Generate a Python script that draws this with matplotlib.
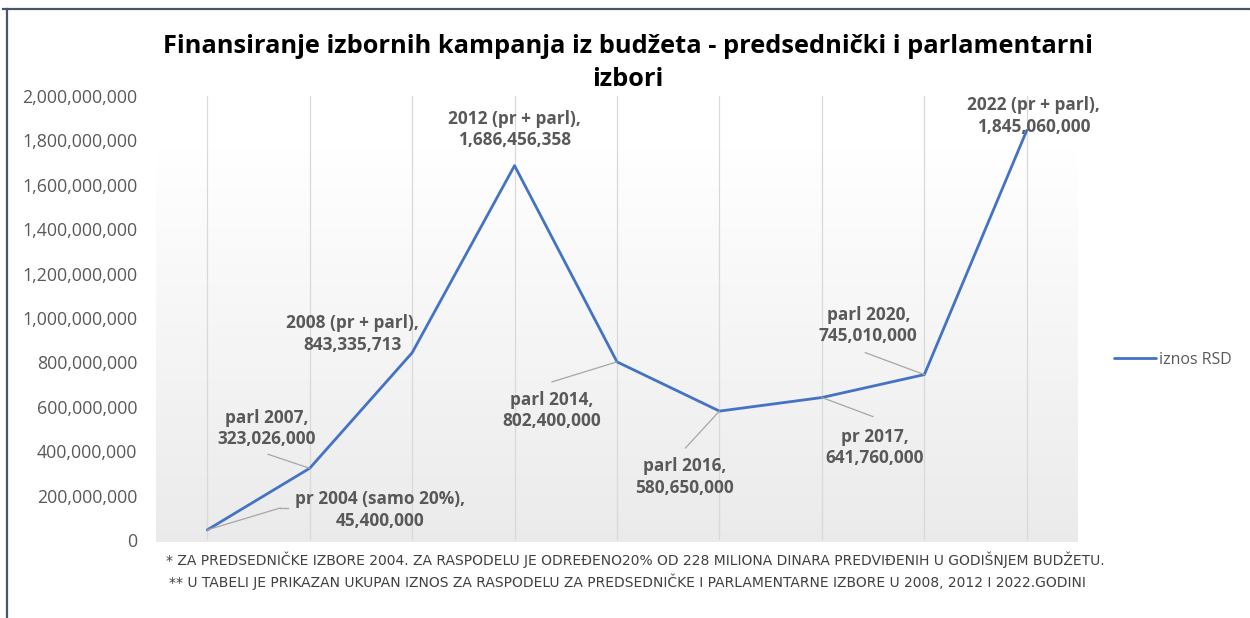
import numpy as np
import matplotlib
matplotlib.use("Agg")
import matplotlib.pyplot as plt
from matplotlib.lines import Line2D
from matplotlib.ticker import FuncFormatter
from matplotlib.transforms import offset_copy

# ---- data ----
categories = ["pr 2004 (samo 20%)", "parl 2007", "2008 (pr + parl)", "2012 (pr + parl)",
              "parl 2014", "parl 2016", "pr 2017", "parl 2020", "2022 (pr + parl)"]
values = [45400000, 323026000, 843335713, 1686456358, 802400000,
          580650000, 641760000, 745010000, 1845060000]
series_name = "iznos RSD"
title = "Finansiranje izbornih kampanja iz budžeta - predsednički i parlamentarni\nizbori"
footnote1 = "* ZA PREDSEDNIČKE IZBORE 2004. ZA RASPODELU JE ODREĐENO20% OD 228 MILIONA DINARA PREDVIĐENIH U GODIŠNJEM BUDŽETU."
footnote2 = "** U TABELI JE PRIKAZAN UKUPAN IZNOS ZA RASPODELU ZA PREDSEDNIČKE I PARLAMENTARNE IZBORE U 2008, 2012 I 2022.GODINI"
yticks = [0, 200000000, 400000000, 600000000, 800000000, 1000000000,
          1200000000, 1400000000, 1600000000, 1800000000, 2000000000]

# label placement (offset of label centre from point, in points) and leader path (points)
label_offsets = [(124.6, 14.4), (-31, 28.8), (-43.2, 13.7), (0, 26), (-46.8, -35),
                 (-25.2, -47.5), (38, -36), (-40.3, 35.3), (5, 10.4)]
leaders = [[(52.6, 15.8), (58.3, 15.8)], [(-30, 10.1)], None, None, [(-46.8, -14.4)],
           [(-24.5, -26.6)], [(36.7, -13.7)], [(-42.5, 15.8)], None]

W, H = 1250, 618
fig = plt.figure(figsize=(W / 100, H / 100), dpi=100)
fig.patch.set_facecolor("white")

FONT = "Open Sans"
TXT = "#595959"
LEAD = "#a6a6a6"

ax_l, ax_r = 156 / W, 1078 / W
ax_b, ax_t = 1 - 540 / H, 1 - 96 / H
rect = [ax_l, ax_b, ax_r - ax_l, ax_t - ax_b]

# gradient background of plot area
bg = fig.add_axes([ax_l, 1 - 542 / H, ax_r - ax_l, ax_t - (1 - 542 / H)], zorder=0)
g = np.linspace(0, 1, 256)
g = np.clip((g - 0.12) / 0.88, 0, 1)
top_c = np.array([1.0, 1.0, 1.0])
bot_c = np.array([0.92, 0.92, 0.92])
img = top_c[None, :] * (1 - g[:, None]) + bot_c[None, :] * g[:, None]
bg.imshow(img[:, None, :], aspect="auto", extent=[0, 1, 0, 1], origin="upper")
bg.set_axis_off()

ax = fig.add_axes(rect, zorder=1)
ax.set_facecolor("none")
x = np.arange(len(values))
ax.set_xlim(-0.5, len(values) - 0.5)
ax.set_ylim(0, 2000000000)
for xi in x:
    ax.axvline(xi, color="#d9d9d9", lw=0.9, zorder=1)

line, = ax.plot(x, values, color="#4472C4", lw=2.0, zorder=3, solid_capstyle="round",
                label=series_name)

for i, (cat, v) in enumerate(zip(categories, values)):
    dx, dy = label_offsets[i]
    ax.annotate(f"{cat},\n{v:,}", xy=(i, v), xytext=(dx, dy), textcoords="offset points",
                ha="center", va="center", fontsize=12.4, fontweight="bold", color=TXT,
                family=FONT, linespacing=1.25, zorder=4)
    if leaders[i]:
        pts = [(0.0, 0.0)] + leaders[i]
        for (x0, y0), (x1, y1) in zip(pts[:-1], pts[1:]):
            p0 = offset_copy(ax.transData, fig=fig, x=x0, y=y0, units="points").transform((i, v))
            p1 = offset_copy(ax.transData, fig=fig, x=x1, y=y1, units="points").transform((i, v))
            fig.add_artist(Line2D([p0[0] / W, p1[0] / W], [p0[1] / H, p1[1] / H],
                                  transform=fig.transFigure, color=LEAD, lw=0.9,
                                  zorder=2))

ax.set_xticks([])
ax.set_yticks(yticks)
ax.yaxis.set_major_formatter(FuncFormatter(lambda v, p: f"{int(v):,}"))
ax.tick_params(axis="y", length=0, pad=13.5, labelsize=12.8, labelcolor=TXT)
for lab in ax.get_yticklabels():
    lab.set_family(FONT)
for s in ax.spines.values():
    s.set_visible(False)

# title
fig.text(628 / W, 1 - 63 / H, title, ha="center", va="center", fontsize=18.3,
         fontweight="bold", color="black", family=FONT, linespacing=1.45)

# legend
fig.legend(handles=[line], labels=[series_name], loc="center left",
           bbox_to_anchor=(1108 / W, 1 - 360 / H), frameon=False,
           prop={"family": FONT, "size": 11.5}, labelcolor=TXT, handlelength=2.6,
           handletextpad=0.2, borderaxespad=0)

# footnotes
fig.text(635 / W, 1 - 560 / H, footnote1, ha="center", va="center", fontsize=10,
         color="#404040", family="Liberation Sans Narrow")
fig.text(627 / W, 1 - 582 / H, footnote2, ha="center", va="center", fontsize=10,
         color="#404040", family="Liberation Sans Narrow")

# partial frame (top and left)
fig.add_artist(Line2D([3 / W, 1], [1 - 9 / H, 1 - 9 / H], transform=fig.transFigure,
                      color="#4a5668", lw=1.6))
fig.add_artist(Line2D([7 / W, 7 / W], [0, 1 - 9 / H], transform=fig.transFigure,
                      color="#4a5668", lw=1.6))

fig.savefig("out.png", dpi=100, facecolor="white")
